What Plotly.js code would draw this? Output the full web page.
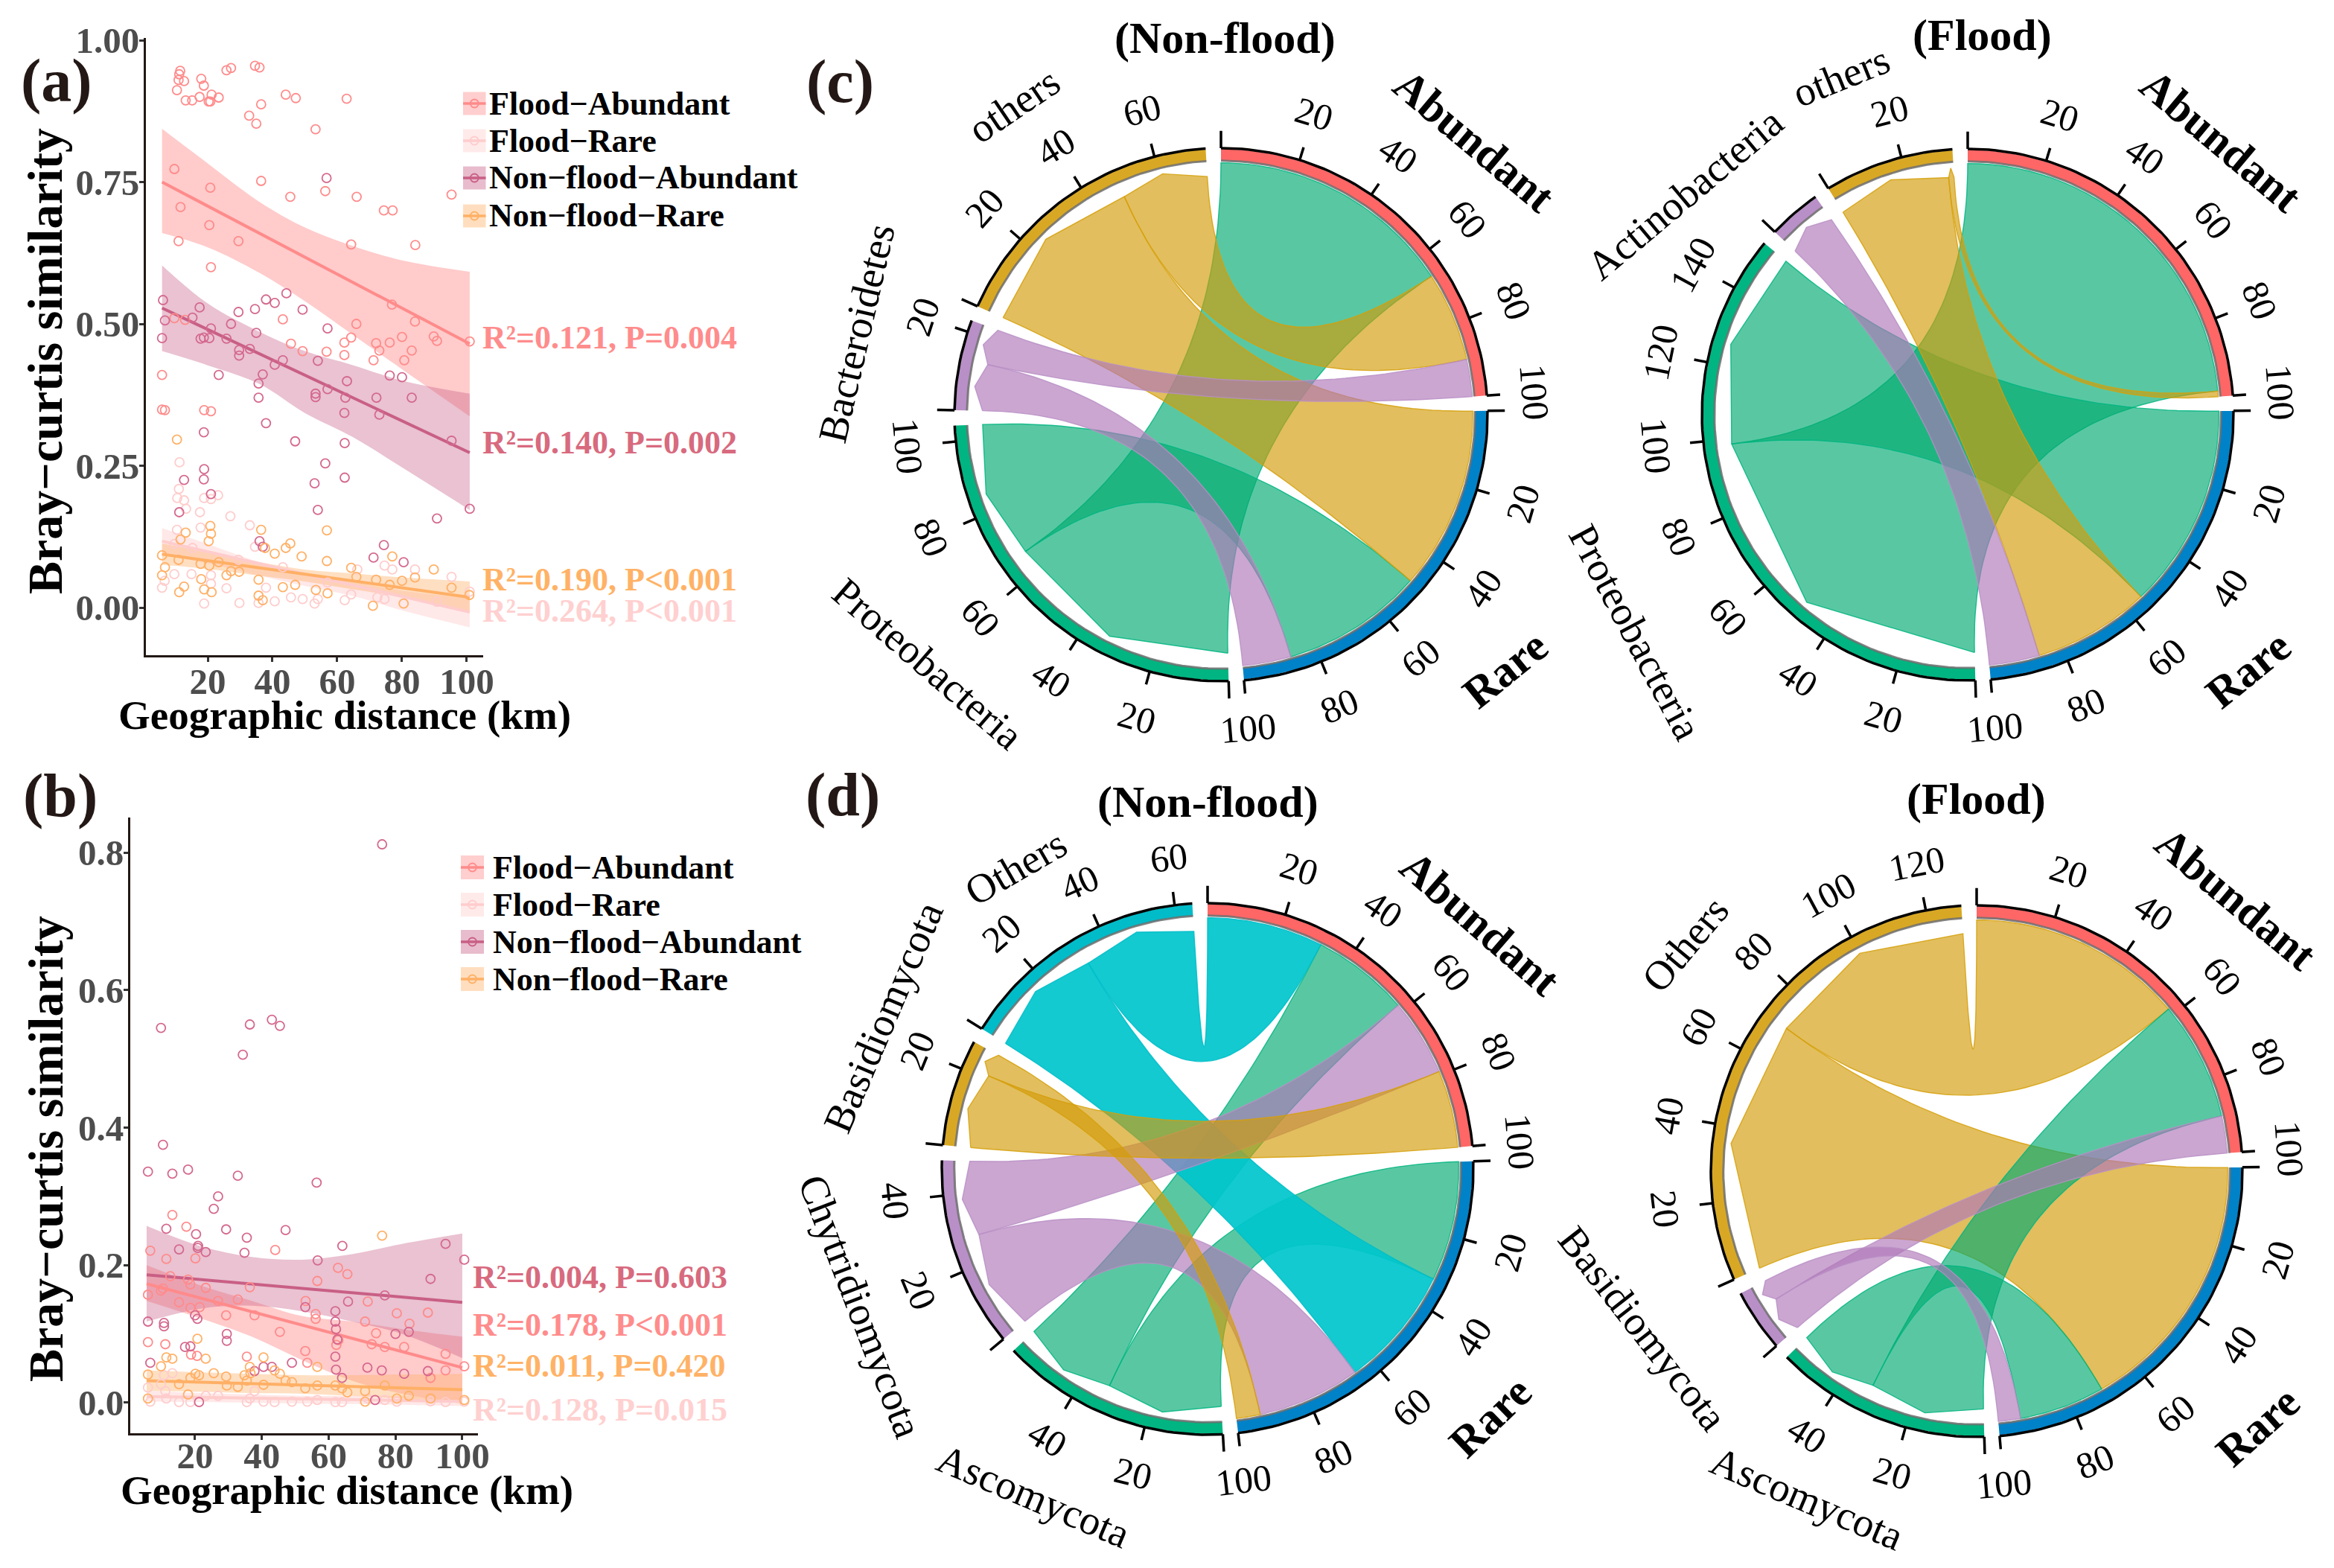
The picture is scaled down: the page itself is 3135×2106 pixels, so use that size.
<!DOCTYPE html>
<html><head><meta charset="utf-8">
<script src="https://cdn.plot.ly/plotly-3.0.1.min.js"></script>
<style>html,body{margin:0;padding:0;background:#fff}#g{width:3135px;height:2106px}</style></head>
<body><div id="g"></div>
<script>
// ---------- panel (a) values ----------
const aFloodAbundantX=[10.5,11,11.2,11.5,12.7,13.2,15.2,17.5,18,18.8,20.3,20.8,21.2,23.4,25.8,27.2,32.8,34.6,35,36,36.5,44.1,47.2,53.3,62.9,9.7,20.8,11.6,20.5,11,29.5,56.3,36.5,45.5,66,74.4,77.1,95.3,64.3,84.1,21,76.9,84,65.9,64.3,62.2,72,76.2,80,89.8,90.8,100.9,73,83,80.7,62.2,56.7,49.3,45.7,43.2,5.9,5.9,6.8,18.9,21,71.2,9.7,13];
const aFloodAbundantY=[.912,.93,.94,.946,.928,.894,.894,.9,.932,.92,.892,.892,.904,.899,.947,.951,.867,.955,.853,.952,.887,.904,.898,.843,.897,.773,.74,.706,.674,.646,.646,.734,.752,.724,.724,.7,.7,.728,.64,.639,.6,.534,.504,.5,.476,.467,.466,.467,.477,.478,.47,.469,.453,.453,.436,.445,.451,.452,.465,.508,.41,.349,.348,.348,.346,.436,.51,.507];
const aNonAbundantX=[6.2,6.8,5.9,15.3,17.5,17.8,18.8,20.5,21,25.8,27.2,29.5,29.7,29.7,33,34.6,35,38,40.7,44.3,49.3,57,43.2,40.7,37,23.4,35.7,35.7,53.3,53.3,54,57,63,62.5,72.1,76.2,80,83,62.2,73,38,47,62.3,95.3,18.8,18.9,56.3,12.7,18.8,21,62.3,53,54,11.2,100.9,90.8,36,37,74.4,71.2,80.5,56.7];
const aNonAbundantY=[.542,.506,.475,.511,.529,.474,.476,.475,.492,.474,.5,.521,.454,.444,.456,.526,.484,.543,.537,.554,.525,.492,.436,.428,.411,.41,.395,.37,.377,.371,.435,.385,.399,.37,.37,.409,.406,.37,.343,.34,.325,.293,.29,.294,.309,.244,.254,.225,.226,.2,.229,.219,.172,.168,.174,.157,.117,.107,.11,.088,.08,.757];
const aFloodRareX=[11.3,11.1,10.6,12.7,13.3,17.6,18.9,21,23.2,27,10.5,17.8,33,9.7,15.3,34.6,5.9,9.7,15,18.9,29.8,35.7,40.7,49.3,53,62.3,6.7,21,21,25.8,29.5,38,45.7,54,64.3,72.4,74.6,77,74.6,84,95.3,90.8,100.9,57,66.2,43.2];
const aFloodRareY=[.256,.209,.193,.189,.174,.168,.193,.191,.198,.161,.137,.141,.145,.112,.105,.107,.035,.059,.059,.007,.008,.008,.011,.015,.007,.013,.047,.042,.057,.034,.084,.035,.018,.015,.023,.018,.015,.067,.074,.067,.054,.01,.028,.044,.067,.071];
const aNonRareX=[10.5,5.9,5.9,6.8,11.2,12.7,13.2,11.6,11,17.8,18,18.9,20.3,20.8,21,20.5,21.2,23.4,25.8,27.2,29.7,36.5,37.7,40.7,43.2,44.1,45.5,47,49,53.4,56.8,57,56.8,64.3,65.9,77,71,72,76.2,80,80.5,84,89.8,95.3,100.8,35.7,35.7,37];
const aNonRareY=[.296,.092,.057,.071,.027,.037,.132,.12,.084,.077,.05,.032,.117,.144,.13,.074,.027,.08,.057,.064,.063,.137,.105,.095,.036,.105,.113,.04,.09,.031,.136,.025,.082,.07,.054,.09,.003,.049,.04,.047,.007,.053,.067,.035,.022,.049,.021,.013];
const aTrendX=[5.9,100.9];
const aFloodAbundantFit=[.75,.465], aFloodRareFit=[.117,-.008], aNonAbundantFit=[.528,.273], aNonRareFit=[.094,.018];
const aBandX=[5.9,20,36,50,65,80,100.9];
const aFloodAbundantUp=[.844,.783,.715,.67,.637,.612,.592], aFloodAbundantLo=[.66,.635,.59,.54,.48,.42,.337];
const aNonAbundantUp=[.603,.536,.486,.452,.427,.4,.377], aNonAbundantLo=[.452,.427,.394,.343,.3,.247,.172];
const aFloodRareUp=[.14,.112,.08,.059,.045,.03,.017], aFloodRareLo=[.092,.078,.056,.038,.02,-.005,-.035];
const aNonRareUp=[.113,.098,.08,.067,.06,.053,.046], aNonRareLo=[.075,.068,.056,.046,.032,.018,-.008];
const aStats=['R²=0.121, P=0.004','R²=0.264, P<0.001','R²=0.140, P=0.002','R²=0.190, P<0.001'];
// ---------- panel (b) values ----------
const bNonAbundantX=[76,9.8,34.3,36.4,43,45.4,10.4,5.9,13.2,17.9,32.8,56.4,26.9,25.6,29.3,11.4,35.5,20.3,20.9,20.8,15.2,34.8,23.2,47.1,64.1,95,56.7,100.6,90.5,76.8,5.9,10.7,10.7,20,20.7,53,62,62,62.2,65.8,62.6,80,84,62,62.2,64,71.6,75.9,82.6,89.7,40.5,43,37.8,49,29.5,29.5,18.6,17,6.6,73.9,21.2];
const bNonAbundantY=[.812,.545,.506,.55,.557,.548,.375,.336,.333,.339,.33,.32,.3,.282,.252,.253,.24,.245,.228,.225,.223,.218,.219,.251,.228,.231,.207,.208,.18,.156,.118,.111,.116,.127,.122,.139,.133,.118,.107,.147,.092,.1,.103,.067,.048,.036,.051,.047,.042,.046,.052,.052,.046,.058,.1,.09,.082,.081,.058,.004,.001];
const bFloodAbundantX=[17.4,13.2,6.6,11.4,20.1,12.6,17.9,18.6,5.9,9.8,10.4,15.2,18.6,21.4,23.2,26.9,32.8,36.4,29.3,37.8,44,56.6,62.8,65.6,53.1,56.1,56.1,45.4,53,53.6,71.7,70.9,80.4,89.7,84.2,74.2,72.9,76.8,82.6,5.9,11.1,95,95,90.5,100.6,35.5,62.3,62.9,18.8,20.6];
const bFloodAbundantY=[.256,.273,.221,.209,.21,.184,.179,.172,.157,.163,.166,.146,.138,.139,.167,.148,.15,.168,.127,.127,.222,.177,.196,.187,.148,.129,.122,.103,.075,.058,.147,.118,.13,.131,.115,.101,.085,.081,.081,.088,.085,.071,.047,.036,.053,.067,.084,.091,.07,.068];
const bNonRareX=[76,20.7,5.9,9.8,11.4,13.2,23.2,15.2,18.6,20.1,21.2,25.6,29.3,29.5,32.8,34.8,36.4,36.6,35.5,40.5,40.5,43.8,45.4,47.1,49,53,56.6,56.6,62,64,65.6,70.9,70.9,76.8,80.4,84,90.5,100.6,5.9,17.9];
const bNonRareY=[.243,.093,.041,.053,.066,.064,.064,.027,.036,.042,.04,.043,.038,.025,.023,.04,.052,.043,.032,.066,.026,.047,.042,.032,.03,.021,.052,.025,.025,.021,.015,.017,.0015,.025,.006,.01,.006,.004,.006,.012];
const bFloodRareX=[5.9,6.6,9.8,10.7,13.2,11.1,11.4,15.2,18.6,26.9,23.2,35.5,37.8,40.5,43.8,49,53.6,56.6,62,64,71.7,76.8,80.4,90.5,95,100.6,36.4];
const bFloodRareY=[.022,.0015,.027,.04,.043,.017,.006,.001,.001,.01,.01,.001,.017,.0015,.001,.0015,.0015,.004,.001,.001,.006,.004,.0015,.002,.001,.0015,.006];
const bTrendX=[5.5,100];
const bFloodAbundantFit=[.173,.051], bFloodRareFit=[.009,.002], bNonAbundantFit=[.186,.146], bNonRareFit=[.032,.019];
const bBandX=[5.5,22,37,52,67,82,100];
const bNonAbundantUp=[.257,.227,.212,.208,.216,.231,.246], bNonAbundantLo=[.118,.137,.141,.133,.118,.1,.065];
const bFloodAbundantUp=[.2,.17,.148,.126,.118,.107,.096], bFloodAbundantLo=[.148,.122,.096,.062,.032,.013,-.001];
const bNonRareUp=[.047,.044,.042,.04,.04,.041,.042], bNonRareLo=[.017,.016,.014,.013,.01,.006,-.001];
const bFloodRareUp=[.017,.014,.012,.01,.01,.01,.01], bFloodRareLo=[.002,.001,0,-.001,-.002,-.003,-.005];
const bStats=['R²=0.178, P<0.001','R²=0.128, P=0.015','R²=0.004, P=0.603','R²=0.011, P=0.420'];
const seriesNames=['Flood−Abundant','Flood−Rare','Non−flood−Abundant','Non−flood−Rare'];
// ---------- chord values: each target sector's share per phylum, clockwise ----------
const c1Phyla=['Proteobacteria','Bacteroidetes','others'];
const c1AbundantPhyla=['Proteobacteria','others','Bacteroidetes'], c1AbundantValues=[66,24,10];
const c1RarePhyla=['others','Proteobacteria','Bacteroidetes'], c1RareValues=[49,38,13];
const c1PhylumOrder=[['Abundant','Rare'],['Rare','Abundant'],['Rare','Abundant']];
const c2Phyla=['Proteobacteria','Actinobacteria','others'];
const c2AbundantPhyla=['Proteobacteria','others'], c2AbundantValues=[98.5,1.5];
const c2RarePhyla=['Proteobacteria','others','Actinobacteria'], c2RareValues=[55,31.5,13.5];
const c2PhylumOrder=[['Abundant','Rare'],['Rare'],['Rare','Abundant']];
const d1Phyla=['Ascomycota','Chytridiomycota','Basidiomycota','Others'];
const d1AbundantPhyla=['Others','Ascomycota','Chytridiomycota','Basidiomycota'], d1AbundantValues=[31.5,26.5,21,21];
const d1RarePhyla=['Ascomycota','Others','Chytridiomycota','Basidiomycota'], d1RareValues=[32.5,33,28,6.5];
const d1PhylumOrder=[['Rare','Abundant'],['Rare','Abundant'],['Abundant','Rare'],['Rare','Abundant']];
const d2Phyla=['Ascomycota','Basidiomycota','Others'];
const d2AbundantPhyla=['Others','Ascomycota','Basidiomycota'], d2AbundantValues=[58,32,10];
const d2RarePhyla=['Others','Ascomycota','Basidiomycota'], d2RareValues=[71,23,6];
const d2PhylumOrder=[['Abundant','Rare'],['Abundant','Rare'],['Rare','Abundant']];

// ---------- styles and layout ----------
const W=3135,H=2106,SERIF='Liberation Serif';
const px=x=>x/W, py=y=>1-y/H;
const rgba=(c,a)=>`rgba(${c[0]},${c[1]},${c[2]},${a})`;
const LINE={FA:[255,139,139],FR:[255,204,204],NA:[201,95,133],NR:[255,176,102]};
const TXT={FA:'#FF8C8C',FR:'#FFD0D0',NA:'#D86A7E',NR:'#FFB266'};
const RED=[255,102,102],BLUE=[0,130,200],GREEN=[0,181,129],PURPLE=[184,143,198],GOLD=[216,168,37],TEAL=[0,188,200];
const LINKFILL=new Map([[GREEN,[[0,170,112],.65]],[PURPLE,[[175,119,184],.65]],[GOLD,[[210,155,8],.65]],[TEAL,[[0,198,204],.93]]]);
const traces=[],shapes=[],annotations=[];
const layout={width:W,height:H,margin:{l:0,r:0,t:0,b:0},paper_bgcolor:'#fff',plot_bgcolor:'rgba(0,0,0,0)',showlegend:false,hovermode:false,shapes,annotations,font:{family:SERIF}};
function note(text,x,y,size,opt={}){annotations.push(Object.assign({text,x:px(x),y:py(y),xref:'paper',yref:'paper',showarrow:false,xanchor:'center',yanchor:'middle',textangle:opt.rot||0,font:{family:SERIF,size,color:opt.color||'#000',weight:opt.bold===false?'normal':'bold'}},opt.extra||{}));}

function axes(id,box,xr,yr,xt,yt,ytf,xOff){
  const common={showgrid:false,zeroline:false,showline:true,linecolor:'#231815',linewidth:3,ticks:'outside',ticklen:6,tickwidth:3,tickcolor:'#333',tickfont:{family:SERIF,size:49,color:'#4D4D4D',weight:'bold'}};
  layout['xaxis'+id]=Object.assign({},common,{domain:[px(box[0]),px(box[1])],range:xr,tickvals:xt,anchor:'y'+id,ticklabelstandoff:xOff});
  layout['yaxis'+id]=Object.assign({},common,{domain:[py(box[3]),py(box[2])],range:yr,tickvals:yt,ticktext:yt.map(ytf),anchor:'x'+id,ticklabelstandoff:-10});
}
function band(id,xs,up,lo,col,a){
  traces.push({xaxis:'x'+id,yaxis:'y'+id,x:xs,y:lo,mode:'lines',line:{width:0,shape:'spline'},hoverinfo:'skip'});
  traces.push({xaxis:'x'+id,yaxis:'y'+id,x:xs,y:up,mode:'lines',line:{width:0,shape:'spline'},fill:'tonexty',fillcolor:rgba(col,a),hoverinfo:'skip'});
}
function fit(id,xs,ys,col){traces.push({xaxis:'x'+id,yaxis:'y'+id,x:xs,y:ys,mode:'lines',line:{color:rgba(col,1),width:4},hoverinfo:'skip'});}
function pts(id,xs,ys,col){traces.push({xaxis:'x'+id,yaxis:'y'+id,x:xs,y:ys,mode:'markers',marker:{symbol:'circle-open',size:12,color:rgba(col,1),line:{width:1.8,color:rgba(col,1)}},hoverinfo:'skip'});}
function legend(x0,x1,rows,half,tx,size){
  const cols=[LINE.FA,LINE.FR,LINE.NA,LINE.NR];
  rows.forEach((y,i)=>{
    const c=cols[i],m=(x0+x1)/2;
    shapes.push({type:'rect',xref:'paper',yref:'paper',x0:px(x0),x1:px(x1),y0:py(y-half),y1:py(y+half),fillcolor:rgba(c,.42),line:{width:0},layer:'below'});
    shapes.push({type:'line',xref:'paper',yref:'paper',x0:px(x0),x1:px(x1),y0:py(y),y1:py(y),line:{color:rgba(c,1),width:3.5}});
    shapes.push({type:'circle',xref:'paper',yref:'paper',x0:px(m-5.5),x1:px(m+5.5),y0:py(y-5.5),y1:py(y+5.5),line:{color:rgba(c,1),width:1.8}});
    note(seriesNames[i],tx,y,size,{extra:{xanchor:'left'}});
  });
}
// panel a
axes('',[196,649,51,880],[0.92,105.06],[-.084,1.004],[20,40,60,80,100],[0,.25,.5,.75,1],v=>v.toFixed(2),-16);
band('',aBandX,aFloodAbundantUp,aFloodAbundantLo,LINE.FA,.45);
band('',aBandX,aFloodRareUp,aFloodRareLo,LINE.FR,.45);
band('',aBandX,aNonAbundantUp,aNonAbundantLo,LINE.NA,.38);
band('',aBandX,aNonRareUp,aNonRareLo,LINE.NR,.4);
fit('',aTrendX,aFloodAbundantFit,LINE.FA);fit('',aTrendX,aFloodRareFit,LINE.FR);fit('',aTrendX,aNonAbundantFit,LINE.NA);fit('',aTrendX,aNonRareFit,LINE.NR);
pts('',aFloodAbundantX,aFloodAbundantY,LINE.FA);pts('',aFloodRareX,aFloodRareY,LINE.FR);pts('',aNonAbundantX,aNonAbundantY,[212,104,142]);pts('',aNonRareX,aNonRareY,LINE.NR);
legend(622,652.5,[139,189,239,290],15.5,655,44);
[[454,TXT.FA,0],[821,TXT.FR,1],[594,TXT.NA,2],[779,TXT.NR,3]].forEach(r=>note(aStats[r[2]],646,r[0],44,{color:r[1],extra:{xanchor:'left'}}));
note('Geographic distance (km)',463,960,55);
note('Bray−curtis similarity',61,485,66,{rot:-90});
note('(a)',76,108,82,{color:'#231815'});
// panel b
axes('2',[175,642,1098,1925],[0.61,104.7],[-.0444,.851],[20,40,60,80,100],[0,.2,.4,.6,.8],v=>v.toFixed(1),-21);
band('2',bBandX,bFloodAbundantUp,bFloodAbundantLo,LINE.FA,.45);
band('2',bBandX,bFloodRareUp,bFloodRareLo,LINE.FR,.45);
band('2',bBandX,bNonAbundantUp,bNonAbundantLo,LINE.NA,.38);
band('2',bBandX,bNonRareUp,bNonRareLo,LINE.NR,.4);
fit('2',bTrendX,bFloodAbundantFit,LINE.FA);fit('2',bTrendX,bFloodRareFit,LINE.FR);fit('2',bTrendX,bNonAbundantFit,LINE.NA);fit('2',bTrendX,bNonRareFit,LINE.NR);
pts('2',bFloodAbundantX,bFloodAbundantY,LINE.FA);pts('2',bFloodRareX,bFloodRareY,LINE.FR);pts('2',bNonAbundantX,bNonAbundantY,[212,104,142]);pts('2',bNonRareX,bNonRareY,LINE.NR);
legend(619,650,[1165,1215,1265,1315],16,660,44);
[[1779,TXT.FA,0],[1893,TXT.FR,1],[1715,TXT.NA,2],[1834,TXT.NR,3]].forEach(r=>note(bStats[r[2]],633,r[0],44,{color:r[1],extra:{xanchor:'left'}}));
note('Geographic distance (km)',466,2001,55);
note('Bray−curtis similarity',61,1543,66,{rot:-90});
note('(b)',81,1068,82,{color:'#231815'});
note('(c)',1128,109,82,{color:'#231815'});
note('(d)',1132,1067,82,{color:'#231815'});

// ---------- chord drawing ----------
const GAP=3.3, R_TGT=.945, R_END=.895, R_MID=.93, SPAN=1.25;
function chord(id,cx,cy,R,phyla,phylumOrder,phylaColors,drawOrder,aP,aV,rP,rV,title,names){
  layout['xaxis'+id]={domain:[px(cx-SPAN*R),px(cx+SPAN*R)],range:[-SPAN,SPAN],visible:false,anchor:'y'+id,fixedrange:true};
  layout['yaxis'+id]={domain:[py(cy+SPAN*R),py(cy-SPAN*R)],range:[-SPAN,SPAN],visible:false,anchor:'x'+id,fixedrange:true};
  const xa='x'+id,ya='y'+id;
  const P=(deg,r)=>{const t=deg*Math.PI/180;return [r*Math.sin(t),r*Math.cos(t)];};
  const targets={Abundant:{phyla:aP,vals:aV,col:RED},Rare:{phyla:rP,vals:rV,col:BLUE}};
  const val=(ph,t)=>{const T=targets[t];const i=T.phyla.indexOf(ph);return i<0?0:T.vals[i];};
  const sectors=[{name:'Abundant',size:100,col:RED},{name:'Rare',size:100,col:BLUE}];
  phyla.forEach((p,i)=>sectors.push({name:p,size:phylumOrder[i].reduce((s,t)=>s+val(p,t),0),col:phylaColors[i],order:phylumOrder[i]}));
  const total=sectors.reduce((s,v)=>s+v.size,0);
  const u=(360-GAP*sectors.length)/total;
  let a=0;const span={},seg={};
  sectors.forEach(s=>{s.a0=a;s.a1=a+s.size*u;span[s.name]=s;a=s.a1+GAP;});
  ['Abundant','Rare'].forEach(t=>{let q=span[t].a0;targets[t].phyla.forEach((p,i)=>{const d=targets[t].vals[i]*u;seg[p+'|'+t]={t0:q,t1:q+d};q+=d;});});
  sectors.slice(2).forEach(s=>{let q=s.a0;s.order.forEach(t=>{const d=val(s.name,t)*u;seg[s.name+'|'+t].s0=q;seg[s.name+'|'+t].s1=q+d;q+=d;});});
  drawOrder.forEach(p=>{
    const s=span[p];
    s.order.forEach(t=>{
      const g=seg[p+'|'+t];if(g.t1-g.t0<=0)return;
      const xs=[],ys=[];const add=q=>{xs.push(q[0]);ys.push(q[1]);};
      const A=P(g.s0,R_END),M=P((g.s0+g.s1)/2,R_MID),B=P(g.s1,R_END);
      add(A);add(M);add(B);
      const T0=P(g.t0,R_TGT),T1=P(g.t1,R_TGT);
      const n=48;
      for(let i=1;i<=n;i++){const k=i/n;add([(1-k)*(1-k)*B[0]+k*k*T0[0],(1-k)*(1-k)*B[1]+k*k*T0[1]]);}
      for(let i=1;i<=30;i++)add(P(g.t0+(g.t1-g.t0)*i/30,R_TGT));
      for(let i=1;i<=n;i++){const k=i/n;add([(1-k)*(1-k)*T1[0]+k*k*A[0],(1-k)*(1-k)*T1[1]+k*k*A[1]]);}
      const f=LINKFILL.get(s.col);
      traces.push({xaxis:xa,yaxis:ya,x:xs,y:ys,mode:'lines',fill:'toself',fillcolor:rgba(f[0],f[1]),line:{color:rgba(s.col===GOLD?[214,160,10]:s.col,.85),width:1.4},hoverinfo:'skip'});
    });
  });
  sectors.forEach(s=>{
    const n=Math.max(8,Math.round((s.a1-s.a0)/1.5));
    const xs=[],ys=[],gx=[],gy=[],ax=[],ay=[];
    for(let i=0;i<=n;i++){const d=s.a0+(s.a1-s.a0)*i/n;let q=P(d,.996);xs.push(q[0]);ys.push(q[1]);q=P(d,.953);gx.push(q[0]);gy.push(q[1]);q=P(d,1);ax.push(q[0]);ay.push(q[1]);}
    const rx=xs.concat(gx.slice().reverse()),ry=ys.concat(gy.slice().reverse());
    traces.push({xaxis:xa,yaxis:ya,x:rx,y:ry,mode:'lines',fill:'toself',fillcolor:rgba(s.col,1),line:{width:0},hoverinfo:'skip'});
    traces.push({xaxis:xa,yaxis:ya,x:gx,y:gy,mode:'lines',line:{color:'rgba(110,110,110,.85)',width:3},hoverinfo:'skip'});
    const tx=ax.slice(),ty=ay.slice();
    for(let v=0;v<=s.size+1e-6;v+=20){
      const d=s.a0+v*u,q0=P(d,1),q1=P(d,v===0?1.065:1.05);
      tx.push(null,q0[0],q1[0]);ty.push(null,q0[1],q1[1]);
      if(v>0){
        const lab=P(d,1.18);
        const rot=d<90?d:(d<270?d-180:d-360);
        annotations.push({text:String(v),x:lab[0],y:lab[1],xref:xa,yref:ya,showarrow:false,xanchor:'center',yanchor:'middle',textangle:rot,font:{family:SERIF,size:50,color:'#000'}});
      }
    }
    traces.push({xaxis:xa,yaxis:ya,x:tx,y:ty,mode:'lines',line:{color:'#000',width:3.5},hoverinfo:'skip',connectgaps:false});
  });
  note(title[0],title[1],title[2],60);
  names.forEach(n=>{const big=n[0]==='Abundant'||n[0]==='Rare';note(n[0],n[1],n[2],big?60:55,{rot:n[3],bold:big});});
}
chord('3',1640,557,358,c1Phyla,c1PhylumOrder,[GREEN,PURPLE,GOLD],['Proteobacteria','others','Bacteroidetes'],c1AbundantPhyla,c1AbundantValues,c1RarePhyla,c1RareValues,
 ['(Non-flood)',1645,51],[['Abundant',1980,189,40],['Rare',2022,899,-39],['Proteobacteria',1246,892,41],['Bacteroidetes',1150,448,-77],['others',1362,142,-34]]);
chord('4',2643,557,357,c2Phyla,c2PhylumOrder,[GREEN,PURPLE,GOLD],['Proteobacteria','others','Actinobacteria'],c2AbundantPhyla,c2AbundantValues,c2RarePhyla,c2RareValues,
 ['(Flood)',2662,47],[['Abundant',2983,189,40],['Rare',3020,899,-39],['Proteobacteria',2197,849,62],['Actinobacteria',2263,260,-40],['others',2473,103,-22]]);
chord('5',1622,1570,357,d1Phyla,d1PhylumOrder,[GREEN,PURPLE,GOLD,TEAL],['Ascomycota','Others','Chytridiomycota','Basidiomycota'],d1AbundantPhyla,d1AbundantValues,d1RarePhyla,d1RareValues,
 ['(Non-flood)',1622,1077],[['Abundant',1988,1240,41],['Rare',2002,1903,-44],['Ascomycota',1388,2009,23],['Chytridiomycota',1156,1754,69],['Basidiomycota',1186,1366,-67],['Others',1364,1165,-30]]);
chord('6',2655,1573,357,d2Phyla,d2PhylumOrder,[GREEN,PURPLE,GOLD],['Others','Ascomycota','Basidiomycota'],d2AbundantPhyla,d2AbundantValues,d2RarePhyla,d2RareValues,
 ['(Flood)',2654,1073],[['Abundant',3003,1207,40],['Rare',3033,1916,-42],['Ascomycota',2427,2012,23],['Basidiomycota',2207,1784,52],['Others',2263,1268,-50]]);

Plotly.newPlot('g',traces,layout,{staticPlot:true,displayModeBar:false});
</script></body></html>
